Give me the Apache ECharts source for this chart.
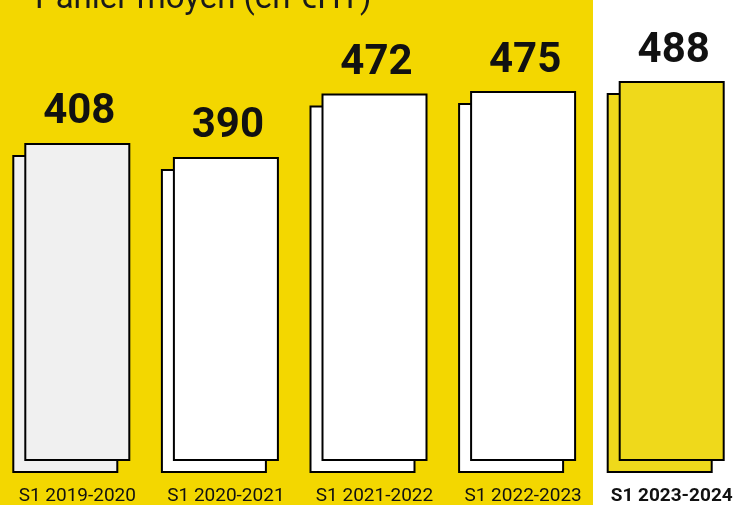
<!DOCTYPE html>
<html>
<head>
<meta charset="utf-8">
<script src="https://cdn.jsdelivr.net/npm/echarts@6/dist/echarts.min.js"></script>
<style>
html,body{margin:0;padding:0;background:#fff;}
#chart{width:736px;height:505px;}
</style>
</head>
<body>
<div id="chart"></div>
<script>
const titleText = 'Panier moyen (en €HT)';
const categories = ['S1 2019-2020', 'S1 2020-2021', 'S1 2021-2022', 'S1 2022-2023', 'S1 2023-2024'];
const values = [408, 390, 472, 475, 488];
const highlightIndex = 4;

const YELLOW_BG = '#f3d700';
const BAR_HL = '#efd91b';

const chart = echarts.init(document.getElementById('chart'));

const fills = ['#f0f0f0', '#ffffff', '#ffffff', '#ffffff', BAR_HL];

chart.setOption({
  animation: false,
  backgroundColor: YELLOW_BG,
  title: {
    text: titleText,
    left: 35,
    top: -17,
    padding: 0,
    textStyle: { fontFamily: 'Roboto', fontWeight: 'normal', fontSize: 33, color: '#1a1a1a' }
  },
  graphic: [{
    type: 'rect',
    z: -10,
    shape: { x: 593, y: 0, width: 143, height: 505 },
    style: { fill: '#ffffff' }
  }],
  grid: { left: 3, width: 743, top: 3, bottom: 45, outerBoundsMode: 'none', containLabel: false },
  xAxis: {
    type: 'category',
    data: categories,
    axisLine: { show: false },
    axisTick: { show: false },
    axisLabel: {
      margin: 27,
      interval: 0,
      fontFamily: 'Roboto',
      fontSize: 19,
      color: '#111',
      formatter: function (v, i) { return i === highlightIndex ? '{b|' + v + '}' : v; },
      rich: { b: { fontFamily: 'Roboto', fontSize: 19, fontWeight: 'bold', color: '#111' } }
    }
  },
  yAxis: { type: 'value', min: 0, max: 590, show: false, splitLine: { show: false } },
  series: [{
    type: 'custom',
    data: values.map((v, i) => [i, v]),
    encode: { x: 0, y: 1 },
    renderItem: function (params, api) {
      const idx = api.value(0);
      const val = api.value(1);
      const top = api.coord([idx, val]);
      const base = api.coord([idx, 0]);
      const w = 104;
      const off = 12;
      const x = top[0] - w / 2;
      const h = base[1] - top[1];
      const fill = fills[idx];
      const stroke = { stroke: '#000', lineWidth: 2 };
      return {
        type: 'group',
        children: [
          { type: 'rect', shape: { x: x - off, y: top[1] + off, width: w, height: h },
            style: Object.assign({ fill: fill }, stroke) },
          { type: 'rect', shape: { x: x, y: top[1], width: w, height: h },
            style: Object.assign({ fill: fill }, stroke) },
          { type: 'text',
            style: { text: String(val), x: top[0] + 2, y: top[1] - 31,
                     align: 'center', verticalAlign: 'middle',
                     font: 'bold 42px Roboto', fill: '#111' } }
        ]
      };
    }
  }]
});
</script>
</body>
</html>
